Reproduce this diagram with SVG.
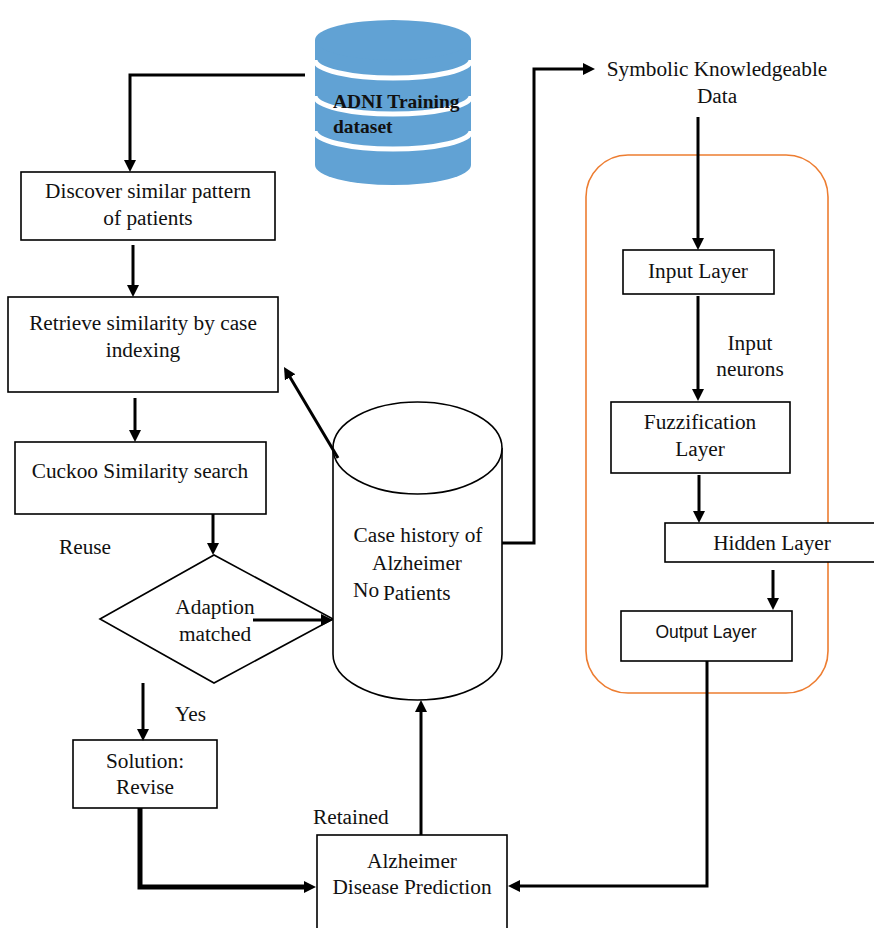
<svg xmlns="http://www.w3.org/2000/svg" width="874" height="928" viewBox="0 0 874 928">
  <style>
    .box { fill: #fff; stroke: #000; stroke-width: 1.6; }
    .t { font-family: "Liberation Serif", "Times New Roman", serif; font-size: 21.3px; fill: #111; }
    .c { text-anchor: middle; }
    .sans { font-family: "Liberation Sans", Arial, sans-serif; font-size: 17.5px; fill: #111; }
    .bold { font-family: "Liberation Serif", "Times New Roman", serif; font-size: 19.5px; font-weight: bold; fill: #111; }
    .wire { fill: none; stroke: #000; stroke-width: 3; marker-end: url(#ah); }
    .plain { fill: none; stroke: #000; stroke-width: 3; }
  </style>
  <defs>
    <marker id="ah" viewBox="0 0 12 12" refX="1" refY="6" markerWidth="12" markerHeight="12" markerUnits="userSpaceOnUse" orient="auto">
      <path d="M0,0 L12,6 L0,12 z" fill="#000"/>
    </marker>
  </defs>

  <rect width="874" height="928" fill="#fff"/>

  <!-- training data store -->
  <g id="adni">
    <path d="M315,40 V165 A78,20 0 0 0 471,165 V40 Z" fill="#61A2D4"/>
    <ellipse cx="393" cy="40" rx="78" ry="20" fill="#61A2D4"/>
    <path d="M315,60 A78,18 0 0 0 471,60" fill="none" stroke="#fff" stroke-width="5"/>
    <path d="M315,96 A78,18 0 0 0 471,96" fill="none" stroke="#fff" stroke-width="5"/>
    <path d="M315,131 A78,18 0 0 0 471,131" fill="none" stroke="#fff" stroke-width="5"/>
    <text class="bold" x="333" y="108">ADNI Training</text>
    <text class="bold" x="333" y="133">dataset</text>
  </g>

  <g id="discover">
    <rect class="box" x="21" y="172" width="254" height="68"/>
    <text class="t c" x="148" y="198">Discover similar pattern</text>
    <text class="t c" x="148" y="225">of patients</text>
  </g>

  <g id="retrieve">
    <rect class="box" x="8" y="297" width="270" height="95"/>
    <text class="t c" x="143" y="330">Retrieve similarity by case</text>
    <text class="t c" x="143" y="357">indexing</text>
  </g>

  <g id="cuckoo">
    <rect class="box" x="15" y="442" width="251" height="72"/>
    <text class="t c" x="140" y="478">Cuckoo Similarity search</text>
  </g>

  <g id="adaption">
    <polygon class="box" points="100,619 214,555 333,619 214,683"/>
    <text class="t c" x="215" y="614">Adaption</text>
    <text class="t c" x="215" y="641">matched</text>
  </g>

  <g id="case-history">
    <path class="box" d="M333,448 V654 A84.5,46 0 0 0 502,654 V448"/>
    <ellipse class="box" cx="417.5" cy="448" rx="84.5" ry="46"/>
    <text class="t c" x="418" y="542">Case history of</text>
    <text class="t c" x="417" y="570">Alzheimer</text>
    <text class="t" x="353" y="597">No</text>
    <text class="t" x="383" y="600">Patients</text>
  </g>

  <g id="solution">
    <rect class="box" x="73" y="740" width="144" height="68"/>
    <text class="t c" x="145" y="768">Solution:</text>
    <text class="t c" x="145" y="794">Revise</text>
  </g>

  <g id="prediction">
    <rect class="box" x="317" y="835" width="190" height="100"/>
    <text class="t c" x="412" y="868">Alzheimer</text>
    <text class="t c" x="412" y="894">Disease Prediction</text>
  </g>

  <g id="symbolic">
    <text class="t c" x="717" y="76">Symbolic Knowledgeable</text>
    <text class="t c" x="717" y="103">Data</text>
  </g>

  <!-- neuro-fuzzy network block -->
  <g id="network">
    <rect x="586" y="155" width="242" height="538" rx="42" ry="42" fill="none" stroke="#ED7D31" stroke-width="1.6"/>
  </g>

  <g id="input-layer">
    <rect class="box" x="623" y="250" width="151" height="44"/>
    <text class="t c" x="698" y="278">Input Layer</text>
  </g>

  <g id="fuzzification">
    <rect class="box" x="611" y="402" width="179" height="71"/>
    <text class="t c" x="700" y="429">Fuzzification</text>
    <text class="t c" x="700" y="456">Layer</text>
  </g>

  <g id="hidden-layer">
    <rect class="box" x="665" y="523" width="220" height="39"/>
    <text class="t c" x="772" y="550">Hidden Layer</text>
  </g>

  <g id="output-layer">
    <rect class="box" x="621" y="611" width="171" height="50"/>
    <text class="sans c" x="706" y="638">Output Layer</text>
  </g>

  <!-- edge labels -->
  <g id="labels">
    <text class="t" x="59" y="554">Reuse</text>
    <text class="t" x="175" y="721">Yes</text>
    <text class="t" x="313" y="824">Retained</text>
    <text class="t c" x="750" y="350">Input</text>
    <text class="t c" x="750" y="376">neurons</text>
  </g>

  <g id="connectors">
    <path class="wire" d="M305,75 H130 V161"/>
    <path class="wire" d="M133,245 V286"/>
    <path class="wire" d="M135,398 V431"/>
    <path class="wire" d="M213,514 V544"/>
    <path class="wire" d="M253,620 H322"/>
    <path class="wire" d="M338,458 L289.6,376.5"/>
    <path class="wire" stroke-width="2.6" d="M502,543 H534 V69 H584"/>
    <path class="wire" d="M698,117 V239"/>
    <path class="wire" d="M698,296 V390"/>
    <path class="wire" d="M699,475 V512"/>
    <path class="wire" d="M773,570 V599"/>
    <path class="wire" d="M707,661 V886 H519"/>
    <path class="wire" style="stroke-width:5" d="M140,808 V887 H305"/>
    <path class="wire" d="M143,683 V730"/>
    <path class="wire" d="M421,835 V711"/>
  </g>
</svg>
